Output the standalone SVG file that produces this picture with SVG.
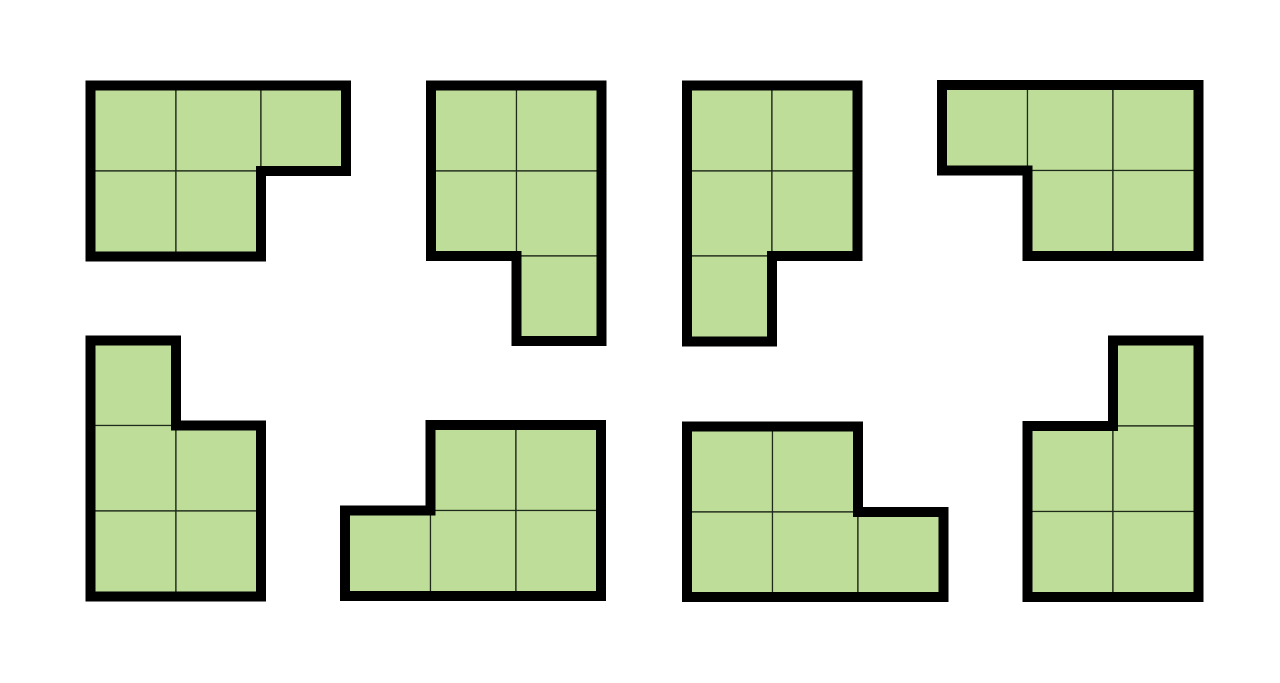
<svg xmlns="http://www.w3.org/2000/svg" width="1280" height="683" viewBox="0 0 1280 683">
<style>
.bg{fill:#ffffff}
.cell{fill:#BDDD99;stroke:#1f2a1a;stroke-width:1.2}
.outline{fill:none;stroke:#000000;stroke-width:10;stroke-linejoin:miter}
</style>
<rect class="bg" x="0" y="0" width="1280" height="683"/>
<g id="piece1">
<rect class="cell" x="90.5" y="85.5" width="85.5" height="85.5"/>
<rect class="cell" x="176" y="85.5" width="85" height="85.5"/>
<rect class="cell" x="261" y="85.5" width="85" height="85.5"/>
<rect class="cell" x="90.5" y="171" width="85.5" height="85.5"/>
<rect class="cell" x="176" y="171" width="85" height="85.5"/>
<path class="outline" d="M90.5,85.5 H346 V171 H261 V256.5 H90.5 Z"/>
</g>
<g id="piece2">
<rect class="cell" x="431" y="85.5" width="85.5" height="85.5"/>
<rect class="cell" x="516.5" y="85.5" width="85" height="85.5"/>
<rect class="cell" x="431" y="171" width="85.5" height="85"/>
<rect class="cell" x="516.5" y="171" width="85" height="85"/>
<rect class="cell" x="516.5" y="256" width="85" height="85"/>
<path class="outline" d="M431,85.5 H601.5 V341 H516.5 V256 H431 Z"/>
</g>
<g id="piece3">
<rect class="cell" x="687" y="85.5" width="85" height="85.5"/>
<rect class="cell" x="772" y="85.5" width="85.5" height="85.5"/>
<rect class="cell" x="687" y="171" width="85" height="85"/>
<rect class="cell" x="772" y="171" width="85.5" height="85"/>
<rect class="cell" x="687" y="256" width="85" height="85.5"/>
<path class="outline" d="M687,85.5 H857.5 V256 H772 V341.5 H687 Z"/>
</g>
<g id="piece4">
<rect class="cell" x="942" y="85" width="85.5" height="85.5"/>
<rect class="cell" x="1027.5" y="85" width="85.5" height="85.5"/>
<rect class="cell" x="1113" y="85" width="85.5" height="85.5"/>
<rect class="cell" x="1027.5" y="170.5" width="85.5" height="85.5"/>
<rect class="cell" x="1113" y="170.5" width="85.5" height="85.5"/>
<path class="outline" d="M942,85 H1198.5 V256 H1027.5 V170.5 H942 Z"/>
</g>
<g id="piece5">
<rect class="cell" x="90.5" y="340.5" width="85.5" height="85"/>
<rect class="cell" x="90.5" y="425.5" width="85.5" height="85.5"/>
<rect class="cell" x="176" y="425.5" width="85" height="85.5"/>
<rect class="cell" x="90.5" y="511" width="85.5" height="85.5"/>
<rect class="cell" x="176" y="511" width="85" height="85.5"/>
<path class="outline" d="M90.5,340.5 H176 V425.5 H261 V596.5 H90.5 Z"/>
</g>
<g id="piece6">
<rect class="cell" x="430.5" y="425" width="85.5" height="85.5"/>
<rect class="cell" x="516" y="425" width="85" height="85.5"/>
<rect class="cell" x="345" y="510.5" width="85.5" height="85.5"/>
<rect class="cell" x="430.5" y="510.5" width="85.5" height="85.5"/>
<rect class="cell" x="516" y="510.5" width="85" height="85.5"/>
<path class="outline" d="M430.5,425 H601 V596 H345 V510.5 H430.5 Z"/>
</g>
<g id="piece7">
<rect class="cell" x="687" y="426.5" width="85.5" height="85.5"/>
<rect class="cell" x="772.5" y="426.5" width="85.5" height="85.5"/>
<rect class="cell" x="687" y="512" width="85.5" height="85"/>
<rect class="cell" x="772.5" y="512" width="85.5" height="85"/>
<rect class="cell" x="858" y="512" width="85.5" height="85"/>
<path class="outline" d="M687,426.5 H858 V512 H943.5 V597 H687 Z"/>
</g>
<g id="piece8">
<rect class="cell" x="1113" y="340.5" width="85.5" height="85.5"/>
<rect class="cell" x="1027.5" y="426" width="85.5" height="85.5"/>
<rect class="cell" x="1113" y="426" width="85.5" height="85.5"/>
<rect class="cell" x="1027.5" y="511.5" width="85.5" height="85.5"/>
<rect class="cell" x="1113" y="511.5" width="85.5" height="85.5"/>
<path class="outline" d="M1113,340.5 H1198.5 V597 H1027.5 V426 H1113 Z"/>
</g>
</svg>
